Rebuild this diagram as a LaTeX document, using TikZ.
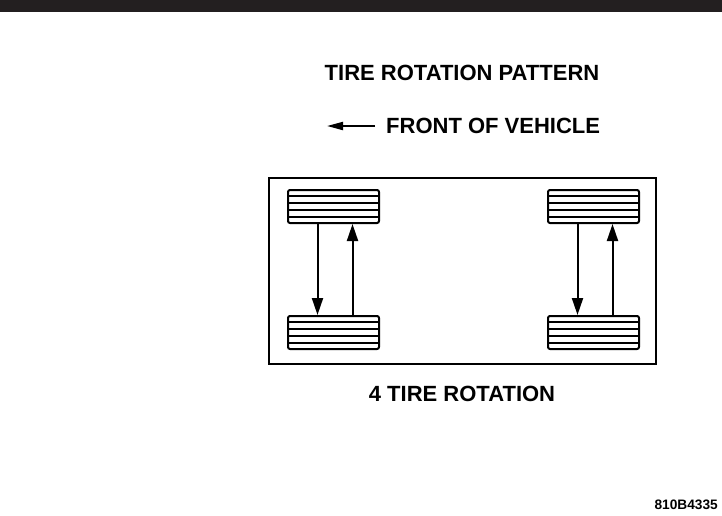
\documentclass[tikz,border=0pt]{standalone}
\usepackage{fontspec}
\setmainfont{Liberation Sans}
\usetikzlibrary{arrows.meta, calc}
\definecolor{barcol}{HTML}{231F20}
\tikzset{
    tire/.style={draw, line width=2pt, rounded corners=2pt, minimum width=91pt, minimum height=33pt, inner sep=0pt},
    swap/.style={line width=2pt, -{Triangle[length=17pt,width=11pt]}},
    title/.style={font=\fontsize{22}{24}\selectfont\bfseries, inner sep=0pt}
}
\begin{document}
\begin{tikzpicture}[x=1pt, y=-1pt]
    \useasboundingbox (0, 0) rectangle (722, 515);
    % top bar
    \fill[barcol] (0, 0) rectangle (722, 12);

    % titles
    \node[title] (pattern) at (462, 73) {TIRE ROTATION PATTERN};
    \node[title, anchor=west] (front) at (386, 126) {FRONT OF VEHICLE};
    \coordinate (fronttip) at (327, 126);
    \draw[line width=2pt, -{Triangle[length=16pt,width=8pt]}] ([xshift=-11pt]front.west) -- (fronttip);

    % vehicle outline
    \draw[line width=2pt] (269, 178) rectangle (656, 364);

    % tires
    \node[tire] (lt) at (333.5, 206.5) {};
    \node[tire] (lb) at (333.5, 332.5) {};
    \node[tire] (rt) at (593.5, 206.5) {};
    \node[tire] (rb) at (593.5, 332.5) {};
    \foreach \t in {lt, lb, rt, rb}
        \foreach \k in {1, 2, 3, 4}
            \draw[line width=1.5pt] ($(\t.north west)!\k/5!(\t.south west)$) -- ($(\t.north east)!\k/5!(\t.south east)$);

    % rotation arrows
    \draw[swap] ([xshift=-16pt]lt.south) -- ([xshift=-16pt]lb.north);
    \draw[swap] ([xshift=19pt]lb.north) -- ([xshift=19pt]lt.south);
    \draw[swap] ([xshift=-16pt]rt.south) -- ([xshift=-16pt]rb.north);
    \draw[swap] ([xshift=19pt]rb.north) -- ([xshift=19pt]rt.south);

    % caption
    \node[title] (caption) at (462, 394) {4 TIRE ROTATION};
    \node[font=\fontsize{13.7}{16}\selectfont\bfseries, anchor=east, inner sep=0pt] (code) at (718, 505) {810B4335};
\end{tikzpicture}
\end{document}
